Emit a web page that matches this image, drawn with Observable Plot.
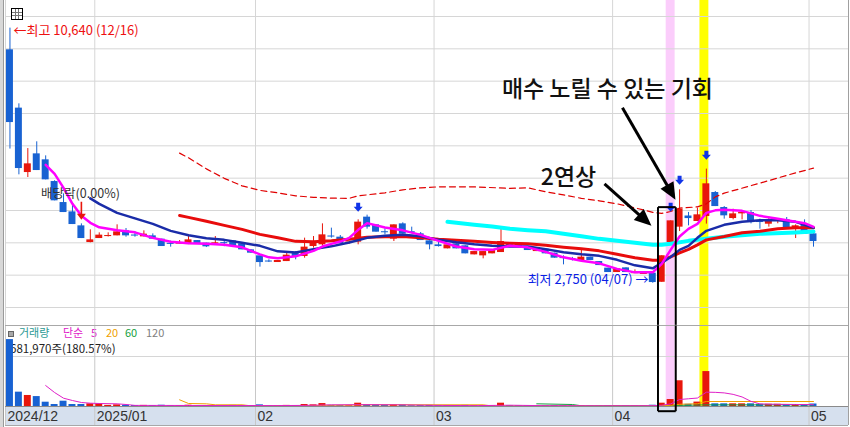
<!DOCTYPE html>
<html><head><meta charset="utf-8">
<script src="https://cdn.jsdelivr.net/npm/d3@7"></script>
<script src="https://cdn.jsdelivr.net/npm/@observablehq/plot@0.6"></script>
<style>
html,body{margin:0;padding:0;background:#fff;overflow:hidden;width:850px;height:427px;}
#wrap{position:relative;width:850px;height:427px;font-family:"Noto Sans CJK KR","Noto Sans",sans-serif;}
#price,#vol{position:absolute;left:0;z-index:2;}
#price{top:0;} #vol{top:325px;}
.abs{position:absolute;white-space:nowrap;line-height:1;z-index:1;}
#band{position:absolute;left:5px;top:406px;width:843px;height:19px;background:#d6e0ee;border-bottom:1px solid #a8a8a8;z-index:0;}
#leftbar{position:absolute;left:0;top:0;width:3px;height:427px;background:#d8d8d8;border-right:1px solid #9a9a9a;z-index:3;}
#icon{position:absolute;left:11px;top:8px;width:10px;height:10px;border:1px solid #000;z-index:3;
background:
 linear-gradient(#777,#777) 0 3px/100% 1px no-repeat,
 linear-gradient(#777,#777) 0 6px/100% 1px no-repeat,
 linear-gradient(#777,#777) 3px 0/1px 100% no-repeat,
 linear-gradient(#777,#777) 6px 0/1px 100% no-repeat,#fff;}
</style></head>
<body>
<div id="wrap">
  <div id="band"></div>
  <div id="leftbar"></div>
  <div id="icon"></div>
  <div class="abs" style="left:8px;top:331px;width:4px;height:4px;background:#a8a8a8;border:1px solid #666;"></div>
  <span class="abs" style="left:19px;top:327px;font-size:11px;color:#2b9a94;">거래량</span>
  <span class="abs" style="left:63px;top:327px;font-size:11px;color:#e020c8;">단순</span>
  <span class="abs" style="left:91px;top:327px;font-size:11px;color:#e020c8;">5</span>
  <span class="abs" style="left:106px;top:327px;font-size:11px;color:#f0a000;">20</span>
  <span class="abs" style="left:125px;top:327px;font-size:11px;color:#16a040;">60</span>
  <span class="abs" style="left:146px;top:327px;font-size:11px;color:#808080;">120</span>
  <span class="abs" style="left:10px;top:343px;font-size:11.5px;color:#222;">681,970주(180.57%)</span>
  <div id="price"></div>
  <div id="vol"></div>
</div>
<script>
// ---------- data ----------
const openP  = [9970,8166,6174,6752,6567,5896,5246,4958,4525,4009,4133,4200,4216,4371,4236,4185,4216,4113,3975,3965,3947,4071,3990,3975,4000,4061,3970,3783,3598,3432,3391,3421,3680,3577,3886,3938,4205,4175,4000,4021,4794,4556,4335,4114,4587,4335,4278,4061,3938,3814,3969,3907,3628,3597,3660,3700,3990,3969,3867,3730,3805,3681,3535,3505,3443,3557,3421,3217,3081,3226,3055,3030,3062,2780,4009,4485,4830,4660,4814,5556,5092,4752,4896,4937,4680,4576,4670,4710,4423,4557,4278];
const highP  = [10640,8299,6916,7124,6690,5920,5515,5175,4587,4402,4309,4309,4557,4443,4340,4371,4278,4113,4052,4071,4247,4071,3990,4195,4040,4061,3970,3783,3598,3474,3453,3680,3732,4145,4195,4587,4454,4226,4040,4711,4856,4556,4434,4556,4620,4485,4320,4061,4040,3938,3969,3907,3730,3730,3762,4454,4000,3969,3867,3805,3805,3681,3598,3550,3783,3557,3421,3217,3195,3226,3164,3092,3062,3600,4680,5639,4940,5073,6280,5587,5122,5040,4960,5000,4733,4794,4740,4783,4557,4711,4278];
const lowP   = [6900,6103,6020,6236,5948,5299,4937,4566,4133,4000,4133,4180,4216,4175,4175,4185,4113,3886,3866,3960,3947,3960,3854,3970,3880,3885,3783,3680,3248,3391,3391,3421,3474,3525,3835,3835,4144,3970,3960,3938,4423,4330,4247,4040,4269,4280,4071,3783,3870,3814,3814,3660,3628,3505,3660,3700,3907,3867,3762,3730,3660,3526,3319,3440,3440,3452,3297,3081,3081,3081,3050,3030,2750,2780,4009,4349,4525,4660,4578,5122,4733,4711,4711,4587,4423,4485,4590,4423,4133,4268,3866];
const closeP = [7720,6298,6443,6236,5948,5299,4937,4566,4133,4092,4238,4220,4340,4216,4215,4268,4113,3886,3960,3985,4092,3960,3876,3995,3980,3885,3783,3680,3390,3412,3453,3619,3577,3867,3990,4247,4185,3970,4020,4640,4485,4330,4320,4556,4269,4320,4071,3938,3885,3938,3814,3660,3730,3730,3762,4040,3907,3867,3762,3805,3660,3526,3520,3490,3557,3452,3297,3081,3195,3081,3070,3045,2772,3600,4680,5042,4750,4866,5825,5122,4835,4896,4937,4628,4628,4690,4710,4454,4526,4268,4040];
const volume = [18200000,3900000,3000000,2700000,1170000,540000,1440000,540000,540000,730000,730000,300000,450000,350000,250000,300000,250000,350000,200000,200000,350000,250000,250000,250000,200000,300000,280000,250000,450000,200000,200000,300000,250000,540000,450000,800000,300000,250000,200000,900000,450000,400000,350000,450000,380000,200000,250000,300000,200000,220000,200000,300000,200000,220000,200000,900000,250000,200000,220000,180000,200000,250000,200000,180000,250000,180000,200000,250000,220000,200000,180000,200000,350000,900000,1900000,7000000,600000,1200000,9500000,730000,730000,730000,730000,730000,600000,600000,600000,500000,500000,377672,681970];

// moving-average lines: [day index, value]
const ma5  = [[4,6412],[5,6134],[6,5701],[7,5206],[8,4835],[9,4618],[10,4479],[12,4386],[14,4324],[16,4154],[18,4031],[20,3990],[22,3969],[24,3938],[26,3860],[27,3752],[28,3644],[29,3551],[30,3526],[32,3582],[34,3752],[35,3885],[36,3969],[37,4040],[38,4154],[39,4402],[40,4609],[42,4473],[44,4386],[46,4247],[48,4061],[50,3885],[52,3799],[54,3783],[56,3907],[58,3860],[60,3721],[62,3551],[64,3443],[66,3366],[68,3195],[70,3087],[72,3087],[73,3350],[74,3783],[75,4194],[76,4433],[77,4587],[78,4927],[79,5005],[80,5020],[82,4989],[84,4835],[86,4742],[88,4649],[89,4609],[90,4494]];
const ma10 = [[9,5376],[10,5206],[12,4927],[14,4757],[16,4587],[18,4371],[20,4232],[22,4139],[24,4092],[26,4000],[28,3907],[30,3737],[32,3700],[34,3805],[36,3891],[38,4009],[40,4154],[42,4216],[44,4247],[46,4201],[48,4092],[50,4015],[52,3953],[54,3907],[56,3885],[58,3885],[60,3805],[62,3706],[64,3644],[66,3597],[68,3474],[70,3304],[72,3211],[73,3380],[74,3560],[75,3783],[76,3907],[77,4154],[78,4371],[80,4556],[82,4649],[84,4696],[86,4696],[88,4649],[90,4464]];
const ma20 = [[19,4844],[20,4788],[22,4665],[24,4541],[26,4417],[28,4262],[30,4157],[32,4046],[34,4031],[36,4061],[38,4114],[40,4170],[42,4191],[44,4194],[46,4154],[48,4108],[50,4077],[52,4046],[54,4009],[56,3984],[58,3969],[60,3922],[62,3867],[64,3814],[66,3752],[68,3644],[70,3536],[72,3458],[73,3458],[74,3567],[75,3690],[76,3799],[77,3938],[78,4092],[80,4194],[82,4309],[84,4355],[86,4433],[88,4464],[90,4464]];
const ma50 = [[49,4649],[50,4618],[52,4562],[54,4504],[56,4433],[58,4392],[60,4355],[62,4278],[64,4201],[66,4123],[68,4061],[70,4000],[72,3938],[73,3938],[74,3969],[76,4061],[78,4123],[80,4185],[84,4278],[88,4318],[90,4349]];
const upperBand = [[19,6774],[20,6629],[22,6288],[24,5995],[26,5763],[28,5623],[30,5546],[32,5453],[34,5407],[36,5382],[38,5376],[39,5453],[42,5546],[44,5639],[46,5701],[48,5732],[52,5732],[56,5685],[58,5701],[60,5577],[62,5484],[64,5376],[66,5299],[68,5206],[70,5082],[72,4943],[73,4912],[74,4968],[75,5073],[77,5113],[78,5206],[79,5422],[80,5537],[84,5846],[88,6165],[90,6310]];
const volMa5  = [[4,5700000],[5,3800000],[6,2260000],[7,1630000],[8,1090000],[9,900000],[10,820000],[12,730000],[13,540000],[14,300000],[20,280000],[30,250000],[33,300000],[36,450000],[40,500000],[44,450000],[48,300000],[52,230000],[56,350000],[60,220000],[66,200000],[72,220000],[73,350000],[74,700000],[75,1900000],[76,2100000],[77,2300000],[78,3900000],[79,3850000],[80,3700000],[81,3300000],[82,2600000],[83,1400000],[84,700000],[86,600000],[88,550000],[90,500000]];
const volMa20 = [[19,1820000],[20,820000],[22,730000],[23,460000],[26,460000],[27,190000],[34,190000],[35,300000],[38,400000],[40,460000],[53,460000],[54,150000],[72,150000],[74,300000],[75,600000],[77,750000],[78,1360000],[90,1360000]];
const volMa60 = [[59,730000],[63,540000],[64,200000],[74,200000],[75,300000],[78,450000],[90,450000]];

const monthStart = [-0.5, 9.5, 27.5, 47.5, 67.5, 89.5];
const monthLabel = ["2024/12","2025/01","02","03","04","05"];
const priceGrid = [2000,3000,4000,5000,6000,7000,8000,9000,10000,11000];
const signalDays = [39, 74, 75, 78];
const signalTip  = [4958, 4958, 5794, 6567];
const pinkDay = [74], yellowDay = [78];

// ---------- helpers ----------
const RED = "#e8160c", BLUE = "#1862d2";
const XD = [-0.5, 93.92];
const candles = d3.range(closeP.length).map(i => {
  const o = openP[i], c = closeP[i];
  let lo = Math.min(o, c), hi = Math.max(o, c);
  if (hi - lo < 32) { const m = (hi + lo) / 2; lo = m - 16; hi = m + 16; }
  return {i, o, c, h: highP[i], l: lowP[i], lo, hi, v: volume[i], up: c >= o};
});
const ups = candles.filter(d => d.up), downs = candles.filter(d => !d.up);
const signals = signalDays.map((d, k) => ({i: d, p: signalTip[k]}));
const months = monthStart.map((m, k) => ({i: m, t: monthLabel[k]}));

const blueArrow = {draw(ctx) {
  ctx.moveTo(-2, -9); ctx.lineTo(2, -9); ctx.lineTo(2, -5); ctx.lineTo(4.5, -5);
  ctx.lineTo(0, 0); ctx.lineTo(-4.5, -5); ctx.lineTo(-2, -5); ctx.closePath(); }};
const redArrow = {draw(ctx) {
  ctx.moveTo(-0.8, -18); ctx.lineTo(0.8, -18); ctx.lineTo(0.8, -6); ctx.lineTo(4.5, -6);
  ctx.lineTo(0, 0); ctx.lineTo(-4.5, -6); ctx.lineTo(-0.8, -6); ctx.closePath(); }};
function head(dx, dy, L, W) {
  const n = Math.hypot(dx, dy), ux = dx / n, uy = dy / n, px = -uy, py = ux;
  return {draw(ctx) {
    ctx.moveTo(0, 0);
    ctx.lineTo(-ux * L + px * W, -uy * L + py * W);
    ctx.lineTo(-ux * L - px * W, -uy * L - py * W);
    ctx.closePath(); }};
}
const KR = "Noto Sans CJK KR";

// annotation anchors (day index, price)
const ann1 = {x1: 68.60, y1: 8175, x2: 73.99, y2: 5599, tx: 74.54, ty: 5330};
const ann2 = {x1: 66.59, y1: 5824, x2: 71.01, y2: 4733, tx: 71.85, ty: 4525};
const box = {x1: 72.58, x2: 74.57, top: 5104};

// ---------- price pane ----------
const price = Plot.plot({
  width: 850, height: 325, marginLeft: 5, marginRight: 2, marginTop: 16, marginBottom: 18,
  x: {domain: XD, axis: null},
  y: {domain: [2000, 11000], axis: null},
  style: {background: "transparent", fontFamily: KR, overflow: "visible"},
  marks: [
    Plot.rect(pinkDay, {x1: d => d - 0.5, x2: d => d + 0.5, fill: "#fbcdfb", insetTop: -16, insetBottom: -18}),
    Plot.rect(yellowDay, {x1: d => d - 0.72, x2: d => d + 0.28, fill: "#ffff00", insetTop: -16, insetBottom: -18}),
    Plot.ruleY(priceGrid, {stroke: "#d6d6d6"}),
    Plot.ruleX(monthStart, {stroke: "#d6d6d6", insetTop: -16, insetBottom: -18}),
    Plot.ruleX([XD[1]], {stroke: "#a0a0a0", insetTop: -16, insetBottom: -18}),
    Plot.ruleX(ups, {x: "i", y1: "l", y2: "h", stroke: RED}),
    Plot.ruleX(downs, {x: "i", y1: "l", y2: "h", stroke: BLUE}),
    Plot.rect(ups, {x1: d => d.i - 0.39, x2: d => d.i + 0.39, y1: "lo", y2: "hi", fill: RED}),
    Plot.rect(downs, {x1: d => d.i - 0.39, x2: d => d.i + 0.39, y1: "lo", y2: "hi", fill: BLUE}),
    Plot.line(upperBand, {x: d => d[0], y: d => d[1], stroke: "#e00000", strokeWidth: 1.2, strokeDasharray: "6,4"}),
    Plot.line(ma50, {x: d => d[0], y: d => d[1], stroke: "#00ffff", strokeWidth: 4}),
    Plot.line(ma20, {x: d => d[0], y: d => d[1], stroke: "#e80c0c", strokeWidth: 3}),
    Plot.line(ma10, {x: d => d[0], y: d => d[1], stroke: "#1a2ca8", strokeWidth: 2.5}),
    Plot.line(ma5, {x: d => d[0], y: d => d[1], stroke: "#ff00ff", strokeWidth: 2.5}),
    Plot.dot(signals, {x: "i", y: "p", symbol: blueArrow, r: 5, fill: "#1034e8", stroke: "none"}),
    Plot.dot([{i: 8, p: 4711}], {x: "i", y: "p", symbol: redArrow, r: 5, fill: "#e8160c", stroke: "none"}),
    Plot.text([{i: 7.9, p: 5515}], {x: "i", y: "p", text: () => "배당락(0.00%)", fontSize: 12.5, fill: "#333", fontFamily: KR}),
    Plot.text([{i: 0.39, p: 10557}], {x: "i", y: "p", text: () => "←최고 10,640 (12/16)", textAnchor: "start", fontSize: 13, fill: "#ee1010", fontFamily: KR}),
    Plot.text([{i: 71.52, p: 2855}], {x: "i", y: "p", text: () => "최저 2,750 (04/07) →", textAnchor: "end", fontSize: 13, fill: "#0a1ee6", fontFamily: KR}),
    // 2연상 box (upper part)
    Plot.link([box], {x1: "x1", x2: "x1", y1: "top", y2: () => 1463, stroke: "#000", strokeWidth: 2}),
    Plot.link([box], {x1: "x2", x2: "x2", y1: "top", y2: () => 1463, stroke: "#000", strokeWidth: 2}),
    Plot.link([box], {x1: "x1", x2: "x2", y1: "top", y2: "top", stroke: "#000", strokeWidth: 2}),
    // callouts
    Plot.link([ann1, ann2], {x1: "x1", y1: "y1", x2: "x2", y2: "y2", stroke: "#000", strokeWidth: 3}),
    Plot.dot([ann1], {x: "tx", y: "ty", symbol: head(53, 92, 17, 7.5), r: 8, fill: "#000", stroke: "none"}),
    Plot.dot([ann2], {x: "tx", y: "ty", symbol: head(47, 42, 17, 7.5), r: 8, fill: "#000", stroke: "none"}),
    Plot.text([{i: 66.92, p: 8732}], {x: "i", y: "p", text: () => "매수 노릴 수 있는 기회", fontSize: 23, fontWeight: 500, fill: "#111", fontFamily: KR}),
    Plot.text([{i: 62.56, p: 6010}], {x: "i", y: "p", text: () => "2연상", fontSize: 23, fontWeight: 500, fill: "#111", fontFamily: KR})
  ]
});
document.getElementById("price").appendChild(price);

// ---------- volume pane ----------
const VMAX = 22032000, VBOX = -1278000, VLABEL = -2720000;
const vol = Plot.plot({
  width: 850, height: 102, marginLeft: 5, marginRight: 2, marginTop: 0, marginBottom: 21,
  x: {domain: XD, axis: null},
  y: {domain: [0, VMAX], axis: null},
  style: {background: "transparent", fontFamily: KR, overflow: "visible"},
  marks: [
    Plot.rect(pinkDay, {x1: d => d - 0.5, x2: d => d + 0.5, fill: "#fbcdfb"}),
    Plot.rect(yellowDay, {x1: d => d - 0.72, x2: d => d + 0.28, fill: "#ffff00"}),
    Plot.ruleY([13600000], {stroke: "#d6d6d6"}),
    Plot.ruleX(monthStart, {stroke: "#c8c8c8", insetBottom: -19}),
    Plot.ruleX([XD[1]], {stroke: "#a0a0a0", insetBottom: -19}),
    Plot.ruleY([VMAX], {stroke: "#a8a8a8"}),
    Plot.rect(ups, {x1: d => d.i - 0.39, x2: d => d.i + 0.39, y1: 0, y2: "v", fill: RED}),
    Plot.rect(downs, {x1: d => d.i - 0.39, x2: d => d.i + 0.39, y1: 0, y2: "v", fill: BLUE}),
    Plot.line(volMa60, {x: d => d[0], y: d => d[1], stroke: "#16a040", strokeWidth: 1}),
    Plot.line(volMa20, {x: d => d[0], y: d => d[1], stroke: "#f0a000", strokeWidth: 1}),
    Plot.line(volMa5, {x: d => d[0], y: d => d[1], stroke: "#e020c8", strokeWidth: 1}),
    Plot.ruleY([0], {stroke: "#8a8a8a"}),
    Plot.link([box], {x1: "x1", x2: "x1", y1: () => VMAX, y2: () => VBOX, stroke: "#000", strokeWidth: 2}),
    Plot.link([box], {x1: "x2", x2: "x2", y1: () => VMAX, y2: () => VBOX, stroke: "#000", strokeWidth: 2}),
    Plot.link([box], {x1: "x1", x2: "x2", y1: () => VBOX, y2: () => VBOX, stroke: "#000", strokeWidth: 2}),
    Plot.text(months, {x: "i", y: () => VLABEL, text: "t", textAnchor: "start", dx: 2, fontSize: 14, fill: "#333", fontFamily: "Liberation Sans Narrow, Liberation Sans"})
  ]
});
document.getElementById("vol").appendChild(vol);
</script>
</body></html>
